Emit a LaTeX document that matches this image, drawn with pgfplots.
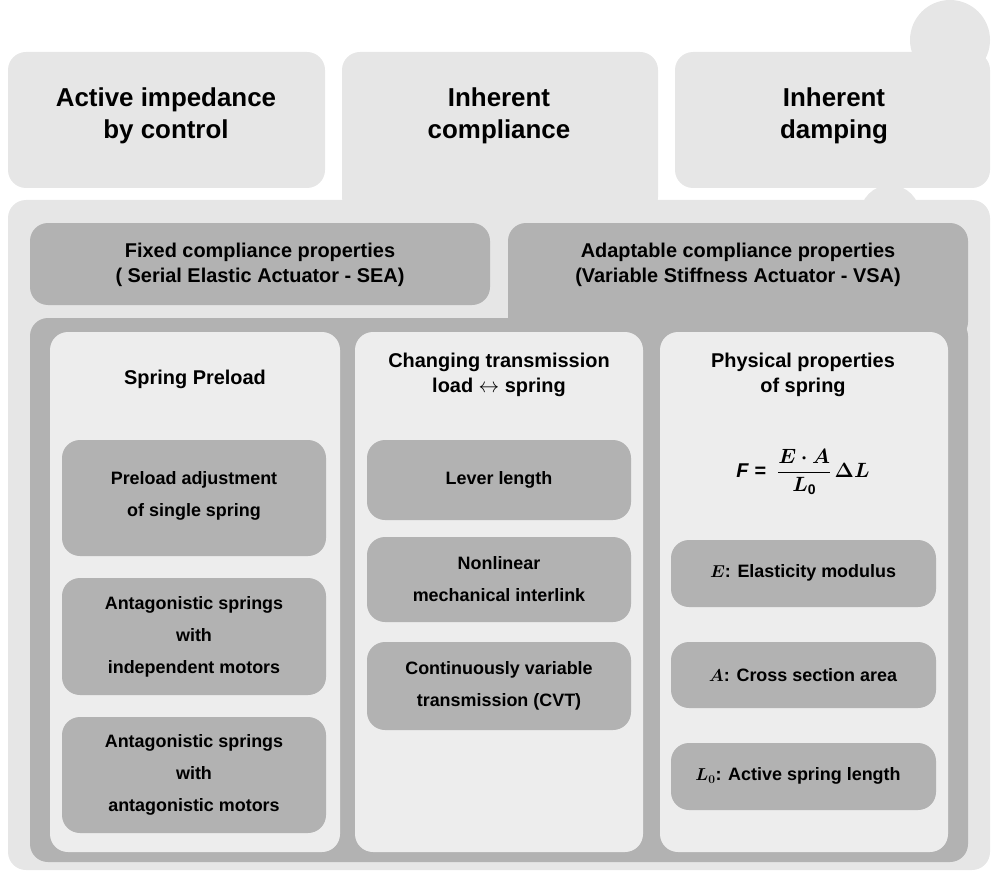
\documentclass[border=0pt]{standalone}
\usepackage{pgfplots}
\pgfplotsset{compat=1.18}
\usepackage{amsmath,amssymb}
\usepackage{bm}
\usepackage{fontspec}
\setmainfont{Liberation Sans}
\definecolor{lt}{HTML}{E6E6E6}
\definecolor{md}{HTML}{B2B2B2}
\definecolor{li}{HTML}{EDEDED}
\newcommand{\rb}[5]{\fill[#5,rounded corners=18bp] (axis cs:#1,#2) rectangle (axis cs:#3,#4);}
\newcommand{\tx}[4]{\node[align=center,font=#3] at (axis cs:#1,#2) {#4};}
\begin{document}
\begin{tikzpicture}
\begin{axis}[width=991bp,height=843bp,scale only axis,hide axis,
 xmin=0,xmax=991,ymin=0,ymax=843,y dir=reverse,clip=false]
\addplot[draw=none] coordinates {(0,0) (991,843)};
\rb{8}{12}{325}{148}{lt}
\rb{342}{12}{658}{175}{lt}
\rb{675}{12}{990}{148}{lt}
\fill[lt] (axis cs:950,0) circle[radius=40bp];
\fill[lt] (axis cs:890,175) circle[radius=30bp];
\rb{8}{160}{990}{830}{lt}
\rb{30}{183}{490}{265}{md}
\rb{508}{183}{968}{300}{md}
\rb{30}{278}{968}{822}{md}
\rb{50}{292}{340}{812}{li}
\rb{355}{292}{643}{812}{li}
\rb{660}{292}{948}{812}{li}
\rb{62}{400}{326}{516}{md}
\rb{62}{538}{326}{655}{md}
\rb{62}{677}{326}{793}{md}
\rb{367}{400}{631}{480}{md}
\rb{367}{497}{631}{582}{md}
\rb{367}{602}{631}{690}{md}
\rb{671}{500}{936}{567}{md}
\rb{671}{602}{936}{668}{md}
\rb{671}{703}{936}{770}{md}
\def\T{\fontsize{26}{32}\selectfont\bfseries}
\def\S{\fontsize{20}{25}\selectfont\bfseries}
\def\I{\fontsize{18}{32}\selectfont\bfseries}
\tx{166}{76}{\T}{Active impedance\\by control}
\tx{499}{76}{\T}{Inherent\\compliance}
\tx{834}{76}{\T}{Inherent\\damping}
\tx{260}{225}{\S}{Fixed compliance properties\\( Serial Elastic Actuator - SEA)}
\tx{738}{225}{\S}{Adaptable compliance properties\\(Variable Stiffness Actuator - VSA)}
\tx{195}{339}{\S}{Spring Preload}
\tx{499}{335}{\S}{Changing transmission\\load $\leftrightarrow$ spring}
\tx{803}{335}{\S}{Physical properties\\of spring}
\tx{803}{432}{\fontsize{20}{25}\selectfont\bfseries}{\textit{F} = \;$\displaystyle\frac{\bm{E\cdot A}}{\bm{L}_{\mathbf 0}}\,\bm{\Delta L}$}
\tx{194}{456}{\I}{Preload adjustment\\of single spring}
\tx{194}{597}{\I}{Antagonistic springs\\with\\independent motors}
\tx{194}{735}{\I}{Antagonistic springs\\with\\antagonistic motors}
\tx{499}{440}{\I}{Lever length}
\tx{499}{539}{\I}{Nonlinear\\mechanical interlink}
\tx{499}{646}{\I}{Continuously variable\\transmission (CVT)}
\tx{803}{533}{\I}{$\bm{E}$: Elasticity modulus}
\tx{803}{635}{\I}{$\bm{A}$: Cross section area}
\tx{798}{736}{\I}{$\bm{L_0}$: Active spring length}
\end{axis}
\end{tikzpicture}
\end{document}
